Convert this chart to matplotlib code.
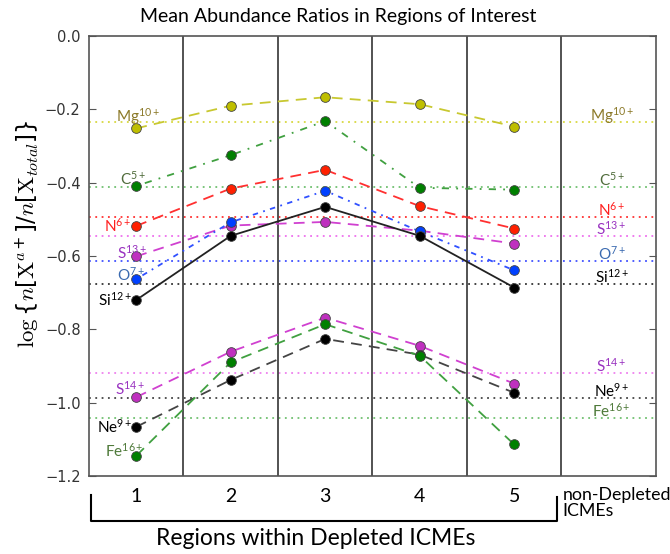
import matplotlib
matplotlib.use("Agg")
import matplotlib.pyplot as plt
from matplotlib.lines import Line2D
import matplotlib.transforms as mtransforms

# superscripts on ion labels in Lato, y label stays in Computer Modern
plt.rcParams['mathtext.fontset'] = 'custom'
plt.rcParams['mathtext.rm'] = 'Lato'
plt.rcParams['mathtext.it'] = 'Lato:italic'
plt.rcParams['mathtext.default'] = 'regular'

# --- Data ---
regions = [1, 2, 3, 4, 5]
ion_labels = [r'Mg$^{10+}$', r'C$^{5+}$', r'N$^{6+}$', r'S$^{13+}$', r'O$^{7+}$',
              r'Si$^{12+}$', r'S$^{14+}$', r'Ne$^{9+}$', r'Fe$^{16+}$']

mg = [-0.252, -0.190, -0.167, -0.186, -0.247]
c5 = [-0.409, -0.325, -0.232, -0.414, -0.419]
n6 = [-0.518, -0.416, -0.365, -0.464, -0.525]
s13 = [-0.601, -0.517, -0.507, -0.531, -0.566]
o7 = [-0.663, -0.508, -0.422, -0.533, -0.639]
si12 = [-0.720, -0.545, -0.466, -0.545, -0.686]
s14 = [-0.985, -0.861, -0.768, -0.845, -0.948]
ne9 = [-1.066, -0.938, -0.826, -0.869, -0.973]
fe16 = [-1.145, -0.890, -0.786, -0.872, -1.114]
series = [mg, c5, n6, s13, o7, si12, s14, ne9, fe16]

# non-depleted ICME reference values
non_depleted = [-0.2345, -0.412, -0.494, -0.545, -0.614, -0.676, -0.919, -0.987, -1.042]

# --- Styles ---
line_colors = ['#c8c830', '#40a040', '#ff3030', '#d040d0', '#3050ff',
               '#222222', '#d040d0', '#444444', '#40a040']
line_styles = [(0, (6, 4)), (0, (1, 4, 4, 4)), (0, (6, 4)), (0, (6, 4)), (0, (1, 3, 3, 3)),
               '-', (0, (6, 4)), (0, (6, 4)), (0, (6, 4))]
marker_colors = ['#bfbf00', '#008000', '#ff2000', '#bf30bf', '#0040ff',
                 'black', '#bf30bf', 'black', '#008000']
ref_colors = ['#d8d840', '#70c070', '#ff3030', '#ee70ee', '#4050ff',
              '#333333', '#ee80ee', '#444444', '#70c070']
text_colors = ['#8c7a2a', '#4f6b3a', '#ff2020', '#9932c0', '#3a6ab0',
               'black', '#9932c0', 'black', '#4f7a3a']

# left label anchors (right edge x, baseline y) in data coords
left_x = [1.254, 1.106, 0.945, 1.113, 1.095, 0.958, 1.095, 0.958, 1.074]
left_y = [-0.234, -0.406, -0.534, -0.606, -0.667, -0.736, -0.979, -1.083, -1.147]

label_font = 'Lato'

fig = plt.figure(figsize=(6.7, 5.54), dpi=100)
ax = fig.add_axes([0.1328, 0.1408, 0.8462, 0.7942])

for i, vals in enumerate(series):
    ax.axhline(non_depleted[i], color=ref_colors[i], linestyle=(0, (1, 2.5)),
               linewidth=1.3, zorder=1)
    ax.plot(regions, vals, color=line_colors[i], linestyle=line_styles[i],
            linewidth=1.3, zorder=2)
    ax.plot(regions, vals, 'o', markerfacecolor=marker_colors[i],
            markeredgecolor='#444444', markeredgewidth=0.6, markersize=7, zorder=3)
    ax.text(left_x[i], left_y[i], ion_labels[i], color=text_colors[i], ha='right',
            va='baseline', fontsize=11, family=label_font, zorder=4)
    ax.text(6.03, non_depleted[i] + 0.004, ion_labels[i], color=text_colors[i],
            ha='center', va='baseline', fontsize=11, family=label_font, zorder=4)

for xv in [1.5, 2.5, 3.5, 4.5, 5.5]:
    ax.axvline(xv, color='#444444', linewidth=1.3, zorder=1)

ax.set_xlim(0.5, 6.5)
ax.set_ylim(-1.2, 0.0)
ax.set_xticks(regions)
ax.set_xticklabels([str(r) for r in regions], fontsize=14, family=label_font)
ax.tick_params(axis='x', length=0, pad=9)
ax.set_yticks([0.0, -0.2, -0.4, -0.6, -0.8, -1.0, -1.2])
ax.set_yticklabels(['0.0', '\u22120.2', '\u22120.4', '\u22120.6', '\u22120.8',
                    '\u22121.0', '\u22121.2'], fontsize=10.5, color='#333333')
ax.tick_params(axis='y', direction='in', length=5, right=True, width=0.8,
               color='#555555', pad=6)
for sp in ax.spines.values():
    sp.set_color('#555555')
    sp.set_linewidth(1.2)

ax.set_ylabel(r'$\log\{\mathit{n}[\mathrm{X}^{\mathit{a}+}]/\mathit{n}[\mathrm{X}_{\mathit{total}}]\}$',
              fontsize=16.5, math_fontfamily='cm')
ax.yaxis.set_label_coords(-0.085, 0.55)

trans = mtransforms.blended_transform_factory(ax.transData, ax.transAxes)
ax.text(5.51, -0.025, 'non-Depleted\nICMEs', transform=trans, ha='left', va='top',
        fontsize=12.8, family=label_font, linespacing=1.0)

# bracket under regions 1-5
bx = [0.524, 0.524, 5.455, 5.455]
by = [-0.043, -0.102, -0.102, -0.048]
ax.add_line(Line2D(bx, by, transform=trans, color='black', linewidth=1.5, clip_on=False))
ax.text(2.9, -0.143, 'Regions within Depleted ICMEs', transform=trans, ha='center',
        va='center', fontsize=16.5, family=label_font)

fig.suptitle('Mean Abundance Ratios in Regions of Interest', x=0.505, y=0.985,
             fontsize=14, family=label_font)

fig.savefig('out.png', dpi=100)
